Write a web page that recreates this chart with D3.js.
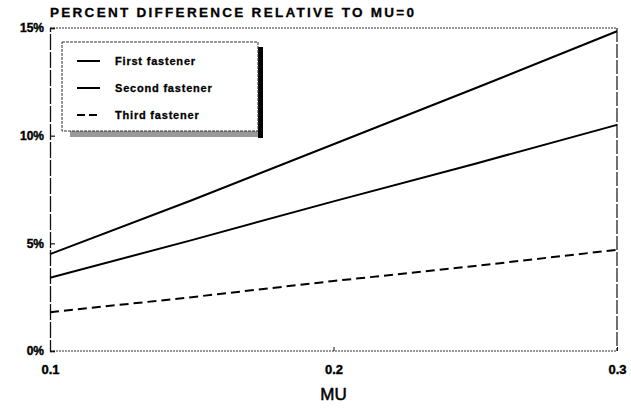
<!DOCTYPE html>
<html><head><meta charset="utf-8">
<script src="https://cdn.jsdelivr.net/npm/d3@7"></script>
<style>body{margin:0;background:#fff}svg{display:block}text{font-family:"Liberation Sans",Arial,sans-serif;font-weight:bold;fill:#000}</style>
</head><body>
<svg id="c" width="631" height="412"></svg>
<script>
const mu = [0.1, 0.15, 0.2, 0.25, 0.3];
const firstFastener = [4.5, 7.0, 9.6, 12.2, 14.85];
const secondFastener = [3.4, 5.15, 6.95, 8.7, 10.5];
const thirdFastener = [1.8, 2.5, 3.25, 3.95, 4.7];
const seriesNames = ["First fastener", "Second fastener", "Third fastener"];
const yTicks = [0, 5, 10, 15];
const xTicks = [0.1, 0.2, 0.3];
const titleText = "PERCENT DIFFERENCE RELATIVE TO MU=0";
const xLabel = "MU";

const svg = d3.select("#c");
const L = 50, R = 617, T = 28, B = 351;
const x = d3.scaleLinear().domain([0.1, 0.3]).range([L, R]);
const y = d3.scaleLinear().domain([0, 15]).range([B, T]);

// frame
svg.append("line").attr("x1", L).attr("x2", R).attr("y1", T).attr("y2", T)
  .attr("stroke", "#777").attr("stroke-width", 1.3).attr("stroke-dasharray", "2,1");
svg.append("line").attr("x1", L).attr("x2", R).attr("y1", B).attr("y2", B)
  .attr("stroke", "#777").attr("stroke-width", 1.3).attr("stroke-dasharray", "2,1");
svg.append("line").attr("x1", R).attr("x2", R).attr("y1", T).attr("y2", B)
  .attr("stroke", "#111").attr("stroke-width", 1.2).attr("stroke-dasharray", "14,2");

// left axis
const yAxis = d3.axisLeft(y).tickValues(yTicks).tickFormat(d => d + "%").tickSize(-5).tickPadding(6);
const ga = svg.append("g").attr("transform", `translate(${L},0)`).call(yAxis);
ga.select(".domain").attr("stroke", "#111").attr("stroke-width", 1.3).attr("stroke-dasharray", "16,2");
ga.selectAll(".tick line").attr("stroke", "#111").attr("stroke-width", 1.2);
ga.selectAll(".tick text").attr("font-size", 12).attr("font-family", "Liberation Sans, Arial")
  .attr("font-weight", "bold").attr("stroke", "#000").attr("stroke-width", 0.4).attr("dy", "0.32em");

// bottom axis
const xAxis = d3.axisBottom(x).tickValues(xTicks).tickFormat(d3.format(".1f")).tickSize(-4).tickPadding(14);
const gb = svg.append("g").attr("transform", `translate(0,${B})`).call(xAxis);
gb.select(".domain").remove();
gb.selectAll(".tick line").attr("stroke", "#111").attr("stroke-width", 1);
gb.selectAll(".tick text").attr("font-size", 13).attr("font-family", "Liberation Sans, Arial")
  .attr("font-weight", "bold").attr("stroke", "#000").attr("stroke-width", 0.4);

// title & axis label
svg.append("text").attr("x", 50).attr("y", 17).attr("font-size", 13.5)
  .attr("stroke", "#000").attr("stroke-width", 0.3)
  .attr("textLength", 364).attr("lengthAdjust", "spacing").text(titleText);
svg.append("text").attr("x", x(0.2)).attr("y", 400).attr("text-anchor", "middle")
  .attr("font-size", 17).style("font-weight", "normal").attr("stroke", "#000").attr("stroke-width", 0.5).text(xLabel);

// data lines
const data = [firstFastener, secondFastener, thirdFastener];
const dashes = [null, null, "9,5"];
const line = d3.line().x((d, i) => x(mu[i])).y(d => y(d));
data.forEach((s, k) => {
  svg.append("path").datum(s).attr("d", line).attr("fill", "none")
    .attr("stroke", "#000").attr("stroke-width", 2).attr("stroke-dasharray", dashes[k]);
});

// legend
const lg = svg.append("g");
lg.append("rect").attr("x", 70).attr("y", 131).attr("width", 193).attr("height", 6).attr("fill", "#999");
lg.append("rect").attr("x", 258).attr("y", 47).attr("width", 5).attr("height", 91).attr("fill", "#000");
lg.append("rect").attr("x", 62).attr("y", 42).attr("width", 196).attr("height", 89)
  .attr("fill", "#fff").attr("stroke", "#333").attr("stroke-width", 1).attr("stroke-dasharray", "3,1");
seriesNames.forEach((n, k) => {
  const yy = 61 + k * 27;
  lg.append("line").attr("x1", 77).attr("x2", 100).attr("y1", yy).attr("y2", yy)
    .attr("stroke", "#000").attr("stroke-width", 2).attr("stroke-dasharray", dashes[k] ? "8,4" : null);
  lg.append("text").attr("x", 115).attr("y", yy + 4).attr("font-size", 11)
    .attr("stroke", "#000").attr("stroke-width", 0.3)
    .style("letter-spacing", "0.8px").text(n);
});
</script>
</body></html>
